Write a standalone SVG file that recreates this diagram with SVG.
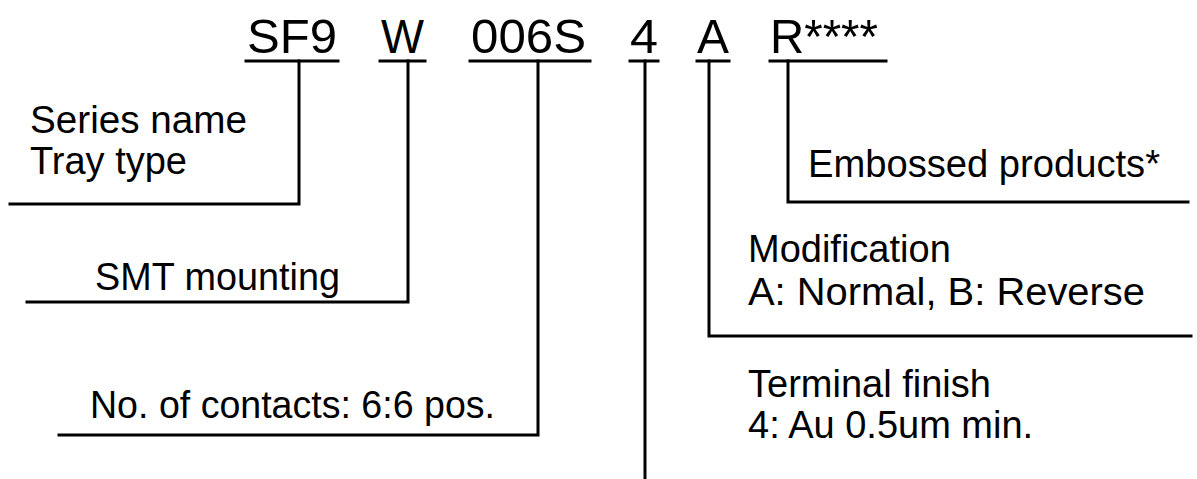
<svg xmlns="http://www.w3.org/2000/svg" width="1197" height="479" viewBox="0 0 1197 479">
<style>
.code{font-family:"Liberation Sans",Arial,sans-serif;font-size:49px;fill:#000}
.lbl{font-family:"Liberation Sans",Arial,sans-serif;font-size:38px;fill:#000}
.ln{stroke:#000;stroke-width:3;fill:none;stroke-linecap:square}
</style>
<rect width="1197" height="479" fill="#fff"/>
<g id="code">
<text class="code" x="247" y="53" textLength="90" lengthAdjust="spacingAndGlyphs">SF9</text>
<text class="code" x="381" y="53" textLength="43" lengthAdjust="spacingAndGlyphs">W</text>
<text class="code" x="471" y="53" textLength="115" lengthAdjust="spacingAndGlyphs">006S</text>
<text class="code" x="630" y="53" textLength="28" lengthAdjust="spacingAndGlyphs">4</text>
<text class="code" x="697" y="53" textLength="32" lengthAdjust="spacingAndGlyphs">A</text>
<text class="code" x="770" y="53" textLength="108" lengthAdjust="spacingAndGlyphs">R****</text>
</g>
<g id="connectors">
<path class="ln" d="M246 61H338M380 61H425M470 61H590M630 61H658M697 61H729M770 61H886"/>
<path class="ln" d="M10 204H299V61"/>
<path class="ln" d="M27 302H408V61"/>
<path class="ln" d="M59 435H538V61"/>
<path class="ln" d="M645 61V478"/>
<path class="ln" d="M709 61V336H1191"/>
<path class="ln" d="M788 61V202H1188"/>
</g>
<g id="series"><text class="lbl" x="30" y="133" textLength="217" lengthAdjust="spacingAndGlyphs">Series name</text><text class="lbl" x="30" y="174">Tray type</text></g>
<g id="smt"><text class="lbl" x="95" y="290" textLength="245" lengthAdjust="spacingAndGlyphs">SMT mounting</text></g>
<g id="contacts"><text class="lbl" x="90" y="418" textLength="405" lengthAdjust="spacingAndGlyphs">No. of contacts: 6:6 pos.</text></g>
<g id="terminal"><text class="lbl" x="748" y="397">Terminal finish</text><text class="lbl" x="748" y="438">4: Au 0.5um min.</text></g>
<g id="modification"><text class="lbl" x="748" y="262">Modification</text><text class="lbl" x="748" y="305" textLength="397" lengthAdjust="spacingAndGlyphs">A: Normal, B: Reverse</text></g>
<g id="embossed"><text class="lbl" x="808" y="177" textLength="352" lengthAdjust="spacingAndGlyphs">Embossed products*</text></g>
</svg>
